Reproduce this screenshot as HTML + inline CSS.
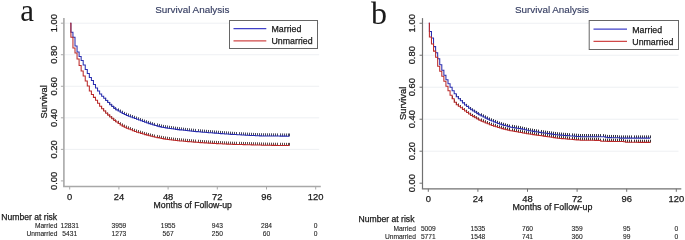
<!DOCTYPE html>
<html><head><meta charset="utf-8"><style>
html,body{margin:0;padding:0;background:#fff;}
body{width:685px;height:240px;overflow:hidden;}
svg{display:block;font-family:"Liberation Sans", sans-serif;will-change:transform;}
text{stroke:#1a1a1a;stroke-width:0.25px;}
text.ttl{fill:#363e62;stroke:#363e62;stroke-width:0.15px;}
text.let{stroke:none;}
text.rt{stroke-width:0.1px;fill:#222;stroke:#222;}

</style></head><body>
<svg width="685" height="240" viewBox="0 0 685 240" fill="#1a1a1a">
<rect width="685" height="240" fill="#fff"/>
<line x1="64.90" y1="149.36" x2="319.20" y2="149.36" stroke="#eef0f3" stroke-width="1"/>
<line x1="64.90" y1="117.82" x2="319.20" y2="117.82" stroke="#eef0f3" stroke-width="1"/>
<line x1="64.90" y1="86.28" x2="319.20" y2="86.28" stroke="#eef0f3" stroke-width="1"/>
<line x1="64.90" y1="54.74" x2="319.20" y2="54.74" stroke="#eef0f3" stroke-width="1"/>
<line x1="64.90" y1="23.20" x2="319.20" y2="23.20" stroke="#eef0f3" stroke-width="1"/>
<line x1="63.90" y1="17.90" x2="63.90" y2="186.50" stroke="#a8a8a8" stroke-width="1.6"/>
<line x1="63.10" y1="186.50" x2="320.80" y2="186.50" stroke="#a8a8a8" stroke-width="1.6"/>
<line x1="60.90" y1="180.90" x2="63.90" y2="180.90" stroke="#a8a8a8" stroke-width="1"/>
<text transform="translate(57.30,180.90) rotate(-90)" text-anchor="middle" font-size="9.4">0.00</text>
<line x1="60.90" y1="149.36" x2="63.90" y2="149.36" stroke="#a8a8a8" stroke-width="1"/>
<text transform="translate(57.30,149.36) rotate(-90)" text-anchor="middle" font-size="9.4">0.20</text>
<line x1="60.90" y1="117.82" x2="63.90" y2="117.82" stroke="#a8a8a8" stroke-width="1"/>
<text transform="translate(57.30,117.82) rotate(-90)" text-anchor="middle" font-size="9.4">0.40</text>
<line x1="60.90" y1="86.28" x2="63.90" y2="86.28" stroke="#a8a8a8" stroke-width="1"/>
<text transform="translate(57.30,86.28) rotate(-90)" text-anchor="middle" font-size="9.4">0.60</text>
<line x1="60.90" y1="54.74" x2="63.90" y2="54.74" stroke="#a8a8a8" stroke-width="1"/>
<text transform="translate(57.30,54.74) rotate(-90)" text-anchor="middle" font-size="9.4">0.80</text>
<line x1="60.90" y1="23.20" x2="63.90" y2="23.20" stroke="#a8a8a8" stroke-width="1"/>
<text transform="translate(57.30,23.20) rotate(-90)" text-anchor="middle" font-size="9.4">1.00</text>
<line x1="69.70" y1="186.50" x2="69.70" y2="189.50" stroke="#a8a8a8" stroke-width="1"/>
<text x="69.70" y="200.00" text-anchor="middle" font-size="9.4">0</text>
<line x1="118.90" y1="186.50" x2="118.90" y2="189.50" stroke="#a8a8a8" stroke-width="1"/>
<text x="118.90" y="200.00" text-anchor="middle" font-size="9.4">24</text>
<line x1="168.10" y1="186.50" x2="168.10" y2="189.50" stroke="#a8a8a8" stroke-width="1"/>
<text x="168.10" y="200.00" text-anchor="middle" font-size="9.4">48</text>
<line x1="217.30" y1="186.50" x2="217.30" y2="189.50" stroke="#a8a8a8" stroke-width="1"/>
<text x="217.30" y="200.00" text-anchor="middle" font-size="9.4">72</text>
<line x1="266.50" y1="186.50" x2="266.50" y2="189.50" stroke="#a8a8a8" stroke-width="1"/>
<text x="266.50" y="200.00" text-anchor="middle" font-size="9.4">96</text>
<line x1="315.70" y1="186.50" x2="315.70" y2="189.50" stroke="#a8a8a8" stroke-width="1"/>
<text x="315.70" y="200.00" text-anchor="middle" font-size="9.4">120</text>
<text transform="translate(47.20,101.90) rotate(-90)" text-anchor="middle" font-size="9.35">Survival</text>
<text x="192.70" y="207.80" text-anchor="middle" font-size="8.7">Months of Follow-up</text>
<text x="192.30" y="13.40" text-anchor="middle" font-size="9.9" class="ttl">Survival Analysis</text>
<text x="20.30" y="20.80" font-family='"Liberation Serif", serif' font-size="31" class="let">a</text>
<path d="M105.50,100.46v-2.70M107.50,102.56v-2.70M109.50,104.65v-2.70M111.50,106.51v-2.70M113.50,108.35v-2.70M115.50,109.88v-2.70M118.50,111.07v-2.70M120.50,112.26v-2.70M122.50,113.40v-2.70M124.50,114.55v-2.70M126.50,115.46v-2.70M128.50,116.22v-2.70M130.50,116.98v-2.70M132.50,117.74v-2.70M134.50,118.50v-2.70M136.50,119.25v-2.70M138.50,120.01v-2.70M140.50,120.77v-2.70M142.50,121.53v-2.70M144.50,122.29v-2.70M146.50,122.96v-2.70M148.50,123.62v-2.70M150.50,124.27v-2.70M152.50,124.93v-2.70M154.50,125.58v-2.70M157.50,126.11v-2.70M159.50,126.63v-2.70M161.50,127.15v-2.70M163.50,127.59v-2.70M165.50,127.89v-2.70M167.50,128.18v-2.70M169.50,128.48v-2.70M171.50,128.77v-2.70M173.50,129.07v-2.70M175.50,129.35v-2.70M177.50,129.60v-2.70M179.50,129.85v-2.70M181.50,130.09v-2.70M183.50,130.34v-2.70M185.50,130.58v-2.70M187.50,130.82v-2.70M189.50,131.02v-2.70M191.50,131.22v-2.70M193.50,131.41v-2.70M195.50,131.61v-2.70M198.50,131.81v-2.70M200.50,132.00v-2.70M202.50,132.17v-2.70M204.50,132.33v-2.70M206.50,132.50v-2.70M208.50,132.66v-2.70M210.50,132.82v-2.70M212.50,132.99v-2.70M214.50,133.14v-2.70M216.50,133.29v-2.70M218.50,133.45v-2.70M220.50,133.60v-2.70M222.50,133.75v-2.70M224.50,133.90v-2.70M226.50,134.05v-2.70M228.50,134.21v-2.70M230.50,134.35v-2.70M232.50,134.47v-2.70M234.50,134.59v-2.70M236.50,134.72v-2.70M239.50,134.84v-2.70M241.50,134.96v-2.70M243.50,135.09v-2.70M245.50,135.21v-2.70M247.50,135.30v-2.70M249.50,135.40v-2.70M251.50,135.49v-2.70M253.50,135.59v-2.70M255.50,135.69v-2.70M257.50,135.78v-2.70M259.50,135.88v-2.70M261.50,135.92v-2.70M263.50,135.94v-2.70M265.50,135.96v-2.70M267.50,135.98v-2.70M269.50,136.00v-2.70M271.50,136.02v-2.70M273.50,136.04v-2.70M275.50,136.06v-2.70M277.50,136.08v-2.70M280.50,136.10v-2.70M282.50,136.12v-2.70M284.50,136.14v-2.70M286.50,136.16v-2.70M288.50,136.18v-2.70M289.50,136.19v-2.70" fill="none" stroke="#48485c" stroke-width="1"/>
<path d="M70.20,23.20H70.90V32.30H72.95V37.20H75.00V46.00H77.05V52.00H79.10V56.50H81.15V60.50H83.20V65.00H85.25V69.50H87.30V73.50H89.35V77.50H91.40V80.50H93.45V84.50H95.50V88.00H97.55V91.00H99.60V94.00H101.65V96.16H103.70V98.33H105.75V100.46H107.80V102.56H109.85V104.65H111.90V106.51H113.95V108.35H116.00V109.88H118.05V111.07H120.10V112.26H122.15V113.40H124.20V114.55H126.25V115.46H128.30V116.22H130.35V116.98H132.40V117.74H134.45V118.50H136.50V119.25H138.55V120.01H140.60V120.77H142.65V121.53H144.70V122.29H146.75V122.96H148.80V123.62H150.85V124.27H152.90V124.93H154.95V125.58H157.00V126.11H159.05V126.63H161.10V127.15H163.15V127.59H165.20V127.89H167.25V128.18H169.30V128.48H171.35V128.77H173.40V129.07H175.45V129.35H177.50V129.60H179.55V129.85H181.60V130.09H183.65V130.34H185.70V130.58H187.75V130.82H189.80V131.02H191.85V131.22H193.90V131.41H195.95V131.61H198.00V131.81H200.05V132.00H202.10V132.17H204.15V132.33H206.20V132.50H208.25V132.66H210.30V132.82H212.35V132.99H214.40V133.14H216.45V133.29H218.50V133.45H220.55V133.60H222.60V133.75H224.65V133.90H226.70V134.05H228.75V134.21H230.80V134.35H232.85V134.47H234.90V134.59H236.95V134.72H239.00V134.84H241.05V134.96H243.10V135.09H245.15V135.21H247.20V135.30H249.25V135.40H251.30V135.49H253.35V135.59H255.40V135.69H257.45V135.78H259.50V135.88H261.55V135.92H263.60V135.94H265.65V135.96H267.70V135.98H269.75V136.00H271.80V136.02H273.85V136.04H275.90V136.06H277.95V136.08H280.00V136.10H282.05V136.12H284.10V136.14H286.15V136.16H288.20V136.18H289.20V136.19" fill="none" stroke="#2a2eb0" stroke-width="1.05"/>
<path d="M101.50,108.68v-2.70M103.50,111.02v-2.70M105.50,113.20v-2.70M107.50,115.13v-2.70M109.50,117.06v-2.70M111.50,118.76v-2.70M113.50,120.44v-2.70M115.50,122.02v-2.70M118.50,123.50v-2.70M120.50,124.96v-2.70M122.50,126.10v-2.70M124.50,127.25v-2.70M126.50,128.20v-2.70M128.50,129.02v-2.70M130.50,129.84v-2.70M132.50,130.66v-2.70M134.50,131.48v-2.70M136.50,132.15v-2.70M138.50,132.76v-2.70M140.50,133.38v-2.70M142.50,134.00v-2.70M144.50,134.61v-2.70M146.50,135.14v-2.70M148.50,135.65v-2.70M150.50,136.16v-2.70M152.50,136.68v-2.70M154.50,137.19v-2.70M157.50,137.63v-2.70M159.50,138.06v-2.70M161.50,138.50v-2.70M163.50,138.89v-2.70M165.50,139.17v-2.70M167.50,139.45v-2.70M169.50,139.72v-2.70M171.50,140.00v-2.70M173.50,140.28v-2.70M175.50,140.54v-2.70M177.50,140.72v-2.70M179.50,140.90v-2.70M181.50,141.08v-2.70M183.50,141.26v-2.70M185.50,141.44v-2.70M187.50,141.62v-2.70M189.50,141.78v-2.70M191.50,141.95v-2.70M193.50,142.11v-2.70M195.50,142.28v-2.70M198.50,142.44v-2.70M200.50,142.60v-2.70M202.50,142.73v-2.70M204.50,142.87v-2.70M206.50,143.00v-2.70M208.50,143.13v-2.70M210.50,143.26v-2.70M212.50,143.39v-2.70M214.50,143.50v-2.70M216.50,143.60v-2.70M218.50,143.71v-2.70M220.50,143.81v-2.70M222.50,143.92v-2.70M224.50,144.02v-2.70M226.50,144.13v-2.70M228.50,144.24v-2.70M230.50,144.32v-2.70M232.50,144.38v-2.70M234.50,144.43v-2.70M236.50,144.48v-2.70M239.50,144.54v-2.70M241.50,144.59v-2.70M243.50,144.64v-2.70M245.50,144.70v-2.70M247.50,144.75v-2.70M249.50,144.81v-2.70M251.50,144.86v-2.70M253.50,144.92v-2.70M255.50,144.98v-2.70M257.50,145.03v-2.70M259.50,145.09v-2.70M261.50,145.15v-2.70M263.50,145.21v-2.70M265.50,145.26v-2.70M267.50,145.31v-2.70M269.50,145.34v-2.70M271.50,145.36v-2.70M273.50,145.39v-2.70M275.50,145.42v-2.70M277.50,145.44v-2.70M280.50,145.47v-2.70M282.50,145.50v-2.70M284.50,145.53v-2.70M286.50,145.55v-2.70M288.50,145.58v-2.70M289.50,145.59v-2.70" fill="none" stroke="#5a4848" stroke-width="1"/>
<path d="M70.20,23.20H70.90V37.20H72.95V48.00H75.00V53.00H77.05V59.00H79.10V65.50H81.15V71.00H83.20V76.00H85.25V81.00H87.30V86.00H89.35V91.00H91.40V94.50H93.45V97.35H95.50V100.23H97.55V103.22H99.60V106.22H101.65V108.68H103.70V111.02H105.75V113.20H107.80V115.13H109.85V117.06H111.90V118.76H113.95V120.44H116.00V122.02H118.05V123.50H120.10V124.96H122.15V126.10H124.20V127.25H126.25V128.20H128.30V129.02H130.35V129.84H132.40V130.66H134.45V131.48H136.50V132.15H138.55V132.76H140.60V133.38H142.65V134.00H144.70V134.61H146.75V135.14H148.80V135.65H150.85V136.16H152.90V136.68H154.95V137.19H157.00V137.63H159.05V138.06H161.10V138.50H163.15V138.89H165.20V139.17H167.25V139.45H169.30V139.72H171.35V140.00H173.40V140.28H175.45V140.54H177.50V140.72H179.55V140.90H181.60V141.08H183.65V141.26H185.70V141.44H187.75V141.62H189.80V141.78H191.85V141.95H193.90V142.11H195.95V142.28H198.00V142.44H200.05V142.60H202.10V142.73H204.15V142.87H206.20V143.00H208.25V143.13H210.30V143.26H212.35V143.39H214.40V143.50H216.45V143.60H218.50V143.71H220.55V143.81H222.60V143.92H224.65V144.02H226.70V144.13H228.75V144.24H230.80V144.32H232.85V144.38H234.90V144.43H236.95V144.48H239.00V144.54H241.05V144.59H243.10V144.64H245.15V144.70H247.20V144.75H249.25V144.81H251.30V144.86H253.35V144.92H255.40V144.98H257.45V145.03H259.50V145.09H261.55V145.15H263.60V145.21H265.65V145.26H267.70V145.31H269.75V145.34H271.80V145.36H273.85V145.39H275.90V145.42H277.95V145.44H280.00V145.47H282.05V145.50H284.10V145.53H286.15V145.55H288.20V145.58H289.20V145.59" fill="none" stroke="#bb2a2a" stroke-width="1.05"/>
<rect x="229.50" y="20.50" width="88.00" height="28.00" fill="#fff" stroke="#666" stroke-width="1"/>
<line x1="233.5" y1="28.7" x2="266.3" y2="28.7" stroke="#4040c8" stroke-width="1.2"/>
<line x1="233.5" y1="40.8" x2="266.3" y2="40.8" stroke="#d04848" stroke-width="1.2"/>
<text x="271.5" y="31.9" font-size="8.8">Married</text>
<text x="271.5" y="44.0" font-size="8.8">Unmarried</text>
<text x="1.3" y="219.6" font-size="8.6">Number at risk</text>
<text x="57.4" y="227.6" text-anchor="end" font-size="6.65" class="rt">Married</text>
<text x="57.4" y="235.6" text-anchor="end" font-size="6.65" class="rt">Unmarried</text>
<text x="69.70" y="227.6" text-anchor="middle" font-size="6.65" class="rt">12831</text>
<text x="69.70" y="235.6" text-anchor="middle" font-size="6.65" class="rt">5431</text>
<text x="118.90" y="227.6" text-anchor="middle" font-size="6.65" class="rt">3959</text>
<text x="118.90" y="235.6" text-anchor="middle" font-size="6.65" class="rt">1273</text>
<text x="168.10" y="227.6" text-anchor="middle" font-size="6.65" class="rt">1955</text>
<text x="168.10" y="235.6" text-anchor="middle" font-size="6.65" class="rt">567</text>
<text x="217.30" y="227.6" text-anchor="middle" font-size="6.65" class="rt">943</text>
<text x="217.30" y="235.6" text-anchor="middle" font-size="6.65" class="rt">250</text>
<text x="266.50" y="227.6" text-anchor="middle" font-size="6.65" class="rt">284</text>
<text x="266.50" y="235.6" text-anchor="middle" font-size="6.65" class="rt">60</text>
<text x="315.70" y="227.6" text-anchor="middle" font-size="6.65" class="rt">0</text>
<text x="315.70" y="235.6" text-anchor="middle" font-size="6.65" class="rt">0</text>
<line x1="423.50" y1="151.21" x2="678.50" y2="151.21" stroke="#eef0f3" stroke-width="1"/>
<line x1="423.50" y1="119.22" x2="678.50" y2="119.22" stroke="#eef0f3" stroke-width="1"/>
<line x1="423.50" y1="87.23" x2="678.50" y2="87.23" stroke="#eef0f3" stroke-width="1"/>
<line x1="423.50" y1="55.24" x2="678.50" y2="55.24" stroke="#eef0f3" stroke-width="1"/>
<line x1="423.50" y1="23.25" x2="678.50" y2="23.25" stroke="#eef0f3" stroke-width="1"/>
<line x1="422.50" y1="18.10" x2="422.50" y2="188.80" stroke="#707070" stroke-width="1.2"/>
<line x1="421.90" y1="188.80" x2="681.30" y2="188.80" stroke="#707070" stroke-width="1.2"/>
<line x1="419.50" y1="183.20" x2="422.50" y2="183.20" stroke="#707070" stroke-width="1"/>
<text transform="translate(414.90,183.20) rotate(-90)" text-anchor="middle" font-size="9.4">0.00</text>
<line x1="419.50" y1="151.21" x2="422.50" y2="151.21" stroke="#707070" stroke-width="1"/>
<text transform="translate(414.90,151.21) rotate(-90)" text-anchor="middle" font-size="9.4">0.20</text>
<line x1="419.50" y1="119.22" x2="422.50" y2="119.22" stroke="#707070" stroke-width="1"/>
<text transform="translate(414.90,119.22) rotate(-90)" text-anchor="middle" font-size="9.4">0.40</text>
<line x1="419.50" y1="87.23" x2="422.50" y2="87.23" stroke="#707070" stroke-width="1"/>
<text transform="translate(414.90,87.23) rotate(-90)" text-anchor="middle" font-size="9.4">0.60</text>
<line x1="419.50" y1="55.24" x2="422.50" y2="55.24" stroke="#707070" stroke-width="1"/>
<text transform="translate(414.90,55.24) rotate(-90)" text-anchor="middle" font-size="9.4">0.80</text>
<line x1="419.50" y1="23.25" x2="422.50" y2="23.25" stroke="#707070" stroke-width="1"/>
<text transform="translate(414.90,23.25) rotate(-90)" text-anchor="middle" font-size="9.4">1.00</text>
<line x1="428.30" y1="188.80" x2="428.30" y2="191.80" stroke="#707070" stroke-width="1"/>
<text x="428.30" y="202.10" text-anchor="middle" font-size="9.4">0</text>
<line x1="477.90" y1="188.80" x2="477.90" y2="191.80" stroke="#707070" stroke-width="1"/>
<text x="477.90" y="202.10" text-anchor="middle" font-size="9.4">24</text>
<line x1="527.50" y1="188.80" x2="527.50" y2="191.80" stroke="#707070" stroke-width="1"/>
<text x="527.50" y="202.10" text-anchor="middle" font-size="9.4">48</text>
<line x1="577.10" y1="188.80" x2="577.10" y2="191.80" stroke="#707070" stroke-width="1"/>
<text x="577.10" y="202.10" text-anchor="middle" font-size="9.4">72</text>
<line x1="626.70" y1="188.80" x2="626.70" y2="191.80" stroke="#707070" stroke-width="1"/>
<text x="626.70" y="202.10" text-anchor="middle" font-size="9.4">96</text>
<line x1="676.30" y1="188.80" x2="676.30" y2="191.80" stroke="#707070" stroke-width="1"/>
<text x="676.30" y="202.10" text-anchor="middle" font-size="9.4">120</text>
<text transform="translate(405.60,103.40) rotate(-90)" text-anchor="middle" font-size="9.35">Survival</text>
<text x="552.40" y="210.40" text-anchor="middle" font-size="8.9">Months of Follow-up</text>
<text x="552.00" y="13.40" text-anchor="middle" font-size="9.9" class="ttl">Survival Analysis</text>
<text x="371.00" y="24.20" font-family='"Liberation Serif", serif' font-size="32" class="let">b</text>
<path d="M456.50,96.72v-2.70M458.50,98.77v-2.70M460.50,100.82v-2.70M462.50,102.88v-2.70M464.50,104.91v-2.70M466.50,106.57v-2.70M468.50,108.23v-2.70M470.50,109.75v-2.70M472.50,111.04v-2.70M474.50,112.32v-2.70M476.50,113.60v-2.70M478.50,114.88v-2.70M481.50,116.03v-2.70M483.50,117.07v-2.70M485.50,118.10v-2.70M487.50,119.13v-2.70M489.50,120.17v-2.70M491.50,121.05v-2.70M493.50,121.85v-2.70M495.50,122.66v-2.70M497.50,123.46v-2.70M499.50,124.27v-2.70M501.50,124.89v-2.70M503.50,125.46v-2.70M505.50,126.04v-2.70M507.50,126.62v-2.70M509.50,127.20v-2.70M512.50,127.53v-2.70M514.50,127.86v-2.70M516.50,128.19v-2.70M518.50,128.52v-2.70M520.50,128.87v-2.70M522.50,129.33v-2.70M524.50,129.79v-2.70M526.50,130.25v-2.70M528.50,130.71v-2.70M530.50,131.06v-2.70M532.50,131.38v-2.70M534.50,131.71v-2.70M536.50,132.03v-2.70M538.50,132.35v-2.70M541.50,132.68v-2.70M543.50,133.00v-2.70M545.50,133.32v-2.70M547.50,133.59v-2.70M549.50,133.86v-2.70M551.50,134.13v-2.70M553.50,134.40v-2.70M555.50,134.67v-2.70M557.50,134.94v-2.70M559.50,135.12v-2.70M561.50,135.28v-2.70M563.50,135.44v-2.70M565.50,135.60v-2.70M567.50,135.76v-2.70M569.50,135.92v-2.70M572.50,136.08v-2.70M574.50,136.24v-2.70M576.50,136.40v-2.70M578.50,136.56v-2.70M580.50,136.70v-2.70M582.50,136.71v-2.70M584.50,136.72v-2.70M586.50,136.73v-2.70M588.50,136.74v-2.70M590.50,136.74v-2.70M592.50,136.75v-2.70M594.50,136.76v-2.70M596.50,136.77v-2.70M598.50,136.78v-2.70M600.50,136.79v-2.70M603.50,136.80v-2.70M605.50,137.23v-2.70M607.50,137.61v-2.70M609.50,137.63v-2.70M611.50,137.65v-2.70M613.50,137.67v-2.70M615.50,137.69v-2.70M617.50,137.79v-2.70M619.50,138.10v-2.70M621.50,138.10v-2.70M623.50,138.10v-2.70M625.50,138.10v-2.70M627.50,138.10v-2.70M629.50,138.10v-2.70M631.50,138.10v-2.70M634.50,138.10v-2.70M636.50,138.10v-2.70M638.50,138.10v-2.70M640.50,138.10v-2.70M642.50,138.10v-2.70M644.50,138.10v-2.70M646.50,138.10v-2.70M648.50,138.10v-2.70M650.50,138.10v-2.70" fill="none" stroke="#32323e" stroke-width="1"/>
<path d="M428.80,23.25H429.40V31.50H431.47V38.07H433.53V46.60H435.60V52.65H437.67V58.70H439.73V64.72H441.80V70.24H443.87V75.26H445.93V79.76H448.00V83.76H450.07V87.28H452.13V90.77H454.20V93.79H456.27V96.72H458.33V98.77H460.40V100.82H462.47V102.88H464.53V104.91H466.60V106.57H468.67V108.23H470.73V109.75H472.80V111.04H474.87V112.32H476.93V113.60H479.00V114.88H481.07V116.03H483.13V117.07H485.20V118.10H487.27V119.13H489.33V120.17H491.40V121.05H493.47V121.85H495.53V122.66H497.60V123.46H499.67V124.27H501.73V124.89H503.80V125.46H505.87V126.04H507.93V126.62H510.00V127.20H512.07V127.53H514.13V127.86H516.20V128.19H518.27V128.52H520.33V128.87H522.40V129.33H524.47V129.79H526.53V130.25H528.60V130.71H530.67V131.06H532.73V131.38H534.80V131.71H536.87V132.03H538.93V132.35H541.00V132.68H543.07V133.00H545.13V133.32H547.20V133.59H549.27V133.86H551.33V134.13H553.40V134.40H555.47V134.67H557.53V134.94H559.60V135.12H561.67V135.28H563.73V135.44H565.80V135.60H567.87V135.76H569.93V135.92H572.00V136.08H574.07V136.24H576.13V136.40H578.20V136.56H580.27V136.70H582.33V136.71H584.40V136.72H586.47V136.73H588.53V136.74H590.60V136.74H592.67V136.75H594.73V136.76H596.80V136.77H598.87V136.78H600.93V136.79H603.00V136.80H605.07V137.23H607.13V137.61H609.20V137.63H611.27V137.65H613.33V137.67H615.40V137.69H617.47V137.79H619.53V138.10H621.60V138.10H623.67V138.10H625.73V138.10H627.80V138.10H629.87V138.10H631.93V138.10H634.00V138.10H636.07V138.10H638.13V138.10H640.20V138.10H642.27V138.10H644.33V138.10H646.40V138.10H648.47V138.10H650.30V138.10" fill="none" stroke="#2a2eb0" stroke-width="1.05"/>
<path d="M452.50,98.81v-2.70M454.50,102.24v-2.70M456.50,104.66v-2.70M458.50,106.23v-2.70M460.50,107.80v-2.70M462.50,109.37v-2.70M464.50,110.92v-2.70M466.50,112.46v-2.70M468.50,114.00v-2.70M470.50,115.42v-2.70M472.50,116.60v-2.70M474.50,117.77v-2.70M476.50,118.95v-2.70M478.50,120.13v-2.70M481.50,121.16v-2.70M483.50,122.05v-2.70M485.50,122.94v-2.70M487.50,123.82v-2.70M489.50,124.71v-2.70M491.50,125.45v-2.70M493.50,126.11v-2.70M495.50,126.77v-2.70M497.50,127.43v-2.70M499.50,128.09v-2.70M501.50,128.63v-2.70M503.50,129.15v-2.70M505.50,129.67v-2.70M507.50,130.18v-2.70M509.50,130.70v-2.70M512.50,131.07v-2.70M514.50,131.44v-2.70M516.50,131.82v-2.70M518.50,132.19v-2.70M520.50,132.56v-2.70M522.50,132.93v-2.70M524.50,133.29v-2.70M526.50,133.66v-2.70M528.50,134.03v-2.70M530.50,134.34v-2.70M532.50,134.64v-2.70M534.50,134.93v-2.70M536.50,135.23v-2.70M538.50,135.53v-2.70M541.50,135.83v-2.70M543.50,136.12v-2.70M545.50,136.42v-2.70M547.50,136.72v-2.70M549.50,137.02v-2.70M551.50,137.33v-2.70M553.50,137.63v-2.70M555.50,137.93v-2.70M557.50,138.23v-2.70M559.50,138.44v-2.70M561.50,138.62v-2.70M563.50,138.80v-2.70M565.50,138.97v-2.70M567.50,139.15v-2.70M569.50,139.33v-2.70M572.50,139.51v-2.70M574.50,139.69v-2.70M576.50,139.87v-2.70M578.50,140.04v-2.70M580.50,140.20v-2.70M582.50,140.22v-2.70M584.50,140.25v-2.70M586.50,140.27v-2.70M588.50,140.29v-2.70M590.50,140.31v-2.70M592.50,140.33v-2.70M594.50,140.36v-2.70M596.50,140.38v-2.70M598.50,140.40v-2.70M600.50,141.27v-2.70M603.50,141.32v-2.70M605.50,141.34v-2.70M607.50,141.36v-2.70M609.50,141.37v-2.70M611.50,141.39v-2.70M613.50,141.41v-2.70M615.50,141.43v-2.70M617.50,141.45v-2.70M619.50,141.47v-2.70M621.50,141.49v-2.70M623.50,141.77v-2.70M625.50,142.30v-2.70M627.50,142.31v-2.70M629.50,142.32v-2.70M631.50,142.33v-2.70M634.50,142.33v-2.70M636.50,142.34v-2.70M638.50,142.35v-2.70M640.50,142.36v-2.70M642.50,142.37v-2.70M644.50,142.37v-2.70M646.50,142.38v-2.70M648.50,142.39v-2.70M650.50,142.40v-2.70" fill="none" stroke="#3a3232" stroke-width="1"/>
<path d="M428.80,23.25H429.40V37.00H431.47V44.06H433.53V51.10H435.60V57.22H437.67V66.16H439.73V71.20H441.80V76.24H443.87V81.28H445.93V86.29H448.00V90.83H450.07V95.28H452.13V98.81H454.20V102.24H456.27V104.66H458.33V106.23H460.40V107.80H462.47V109.37H464.53V110.92H466.60V112.46H468.67V114.00H470.73V115.42H472.80V116.60H474.87V117.77H476.93V118.95H479.00V120.13H481.07V121.16H483.13V122.05H485.20V122.94H487.27V123.82H489.33V124.71H491.40V125.45H493.47V126.11H495.53V126.77H497.60V127.43H499.67V128.09H501.73V128.63H503.80V129.15H505.87V129.67H507.93V130.18H510.00V130.70H512.07V131.07H514.13V131.44H516.20V131.82H518.27V132.19H520.33V132.56H522.40V132.93H524.47V133.29H526.53V133.66H528.60V134.03H530.67V134.34H532.73V134.64H534.80V134.93H536.87V135.23H538.93V135.53H541.00V135.83H543.07V136.12H545.13V136.42H547.20V136.72H549.27V137.02H551.33V137.33H553.40V137.63H555.47V137.93H557.53V138.23H559.60V138.44H561.67V138.62H563.73V138.80H565.80V138.97H567.87V139.15H569.93V139.33H572.00V139.51H574.07V139.69H576.13V139.87H578.20V140.04H580.27V140.20H582.33V140.22H584.40V140.25H586.47V140.27H588.53V140.29H590.60V140.31H592.67V140.33H594.73V140.36H596.80V140.38H598.87V140.40H600.93V141.27H603.00V141.32H605.07V141.34H607.13V141.36H609.20V141.37H611.27V141.39H613.33V141.41H615.40V141.43H617.47V141.45H619.53V141.47H621.60V141.49H623.67V141.77H625.73V142.30H627.80V142.31H629.87V142.32H631.93V142.33H634.00V142.33H636.07V142.34H638.13V142.35H640.20V142.36H642.27V142.37H644.33V142.37H646.40V142.38H648.47V142.39H650.30V142.40" fill="none" stroke="#bb2a2a" stroke-width="1.05"/>
<rect x="589.20" y="20.50" width="89.30" height="29.00" fill="#fff" stroke="#666" stroke-width="1"/>
<line x1="593.5" y1="29.2" x2="627" y2="29.2" stroke="#4040c8" stroke-width="1.2"/>
<line x1="593.5" y1="41.3" x2="627" y2="41.3" stroke="#d04848" stroke-width="1.2"/>
<text x="632.3" y="32.5" font-size="8.8">Married</text>
<text x="632.3" y="44.8" font-size="8.8">Unmarried</text>
<text x="358.6" y="222.2" font-size="8.6">Number at risk</text>
<text x="415.9" y="230.7" text-anchor="end" font-size="6.65" class="rt">Married</text>
<text x="415.9" y="238.9" text-anchor="end" font-size="6.65" class="rt">Unmarried</text>
<text x="428.30" y="230.7" text-anchor="middle" font-size="6.65" class="rt">5009</text>
<text x="428.30" y="238.9" text-anchor="middle" font-size="6.65" class="rt">5771</text>
<text x="477.90" y="230.7" text-anchor="middle" font-size="6.65" class="rt">1535</text>
<text x="477.90" y="238.9" text-anchor="middle" font-size="6.65" class="rt">1548</text>
<text x="527.50" y="230.7" text-anchor="middle" font-size="6.65" class="rt">760</text>
<text x="527.50" y="238.9" text-anchor="middle" font-size="6.65" class="rt">741</text>
<text x="577.10" y="230.7" text-anchor="middle" font-size="6.65" class="rt">359</text>
<text x="577.10" y="238.9" text-anchor="middle" font-size="6.65" class="rt">360</text>
<text x="626.70" y="230.7" text-anchor="middle" font-size="6.65" class="rt">95</text>
<text x="626.70" y="238.9" text-anchor="middle" font-size="6.65" class="rt">99</text>
<text x="676.30" y="230.7" text-anchor="middle" font-size="6.65" class="rt">0</text>
<text x="676.30" y="238.9" text-anchor="middle" font-size="6.65" class="rt">0</text>
</svg>
</body></html>
